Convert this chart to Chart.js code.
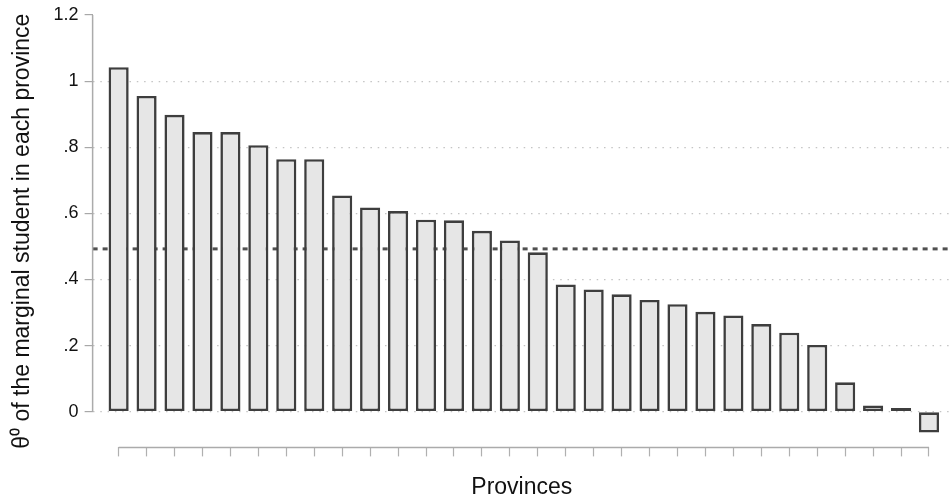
<!DOCTYPE html>
<html>
<head>
<meta charset="utf-8">
<script src="https://cdn.jsdelivr.net/npm/chart.js@4/dist/chart.umd.min.js"></script>
<style>
  html, body { margin: 0; padding: 0; background: #fff; }
  #wrap { width: 951px; height: 504px; }
</style>
</head>
<body>
<div id="wrap"><canvas id="chart"></canvas></div>
<script>
// provinces are unnamed in the figure, ranked by theta0 of the marginal student
var provinceRanks = [1, 2, 3, 4, 5, 6, 7, 8, 9, 10, 11, 12, 13, 14, 15,
                     16, 17, 18, 19, 20, 21, 22, 23, 24, 25, 26, 27, 28, 29, 30];
var theta0 = [1.042, 0.955, 0.898, 0.846, 0.846, 0.806, 0.764, 0.764, 0.654, 0.618,
              0.607, 0.581, 0.579, 0.547, 0.518, 0.482, 0.385, 0.370, 0.355, 0.338,
              0.325, 0.302, 0.291, 0.265, 0.239, 0.202, 0.089, 0.019, 0.011, -0.063];
var meanTheta0 = 0.4925;
var yTicks = [0, 0.2, 0.4, 0.6, 0.8, 1, 1.2];

var FONT = '"Liberation Sans", Arial, Helvetica, sans-serif';

// -------- custom axis lines + mean line --------
var axisLines = {
  id: "axisLines",
  beforeDatasetsDraw: function (chart) {
    var ctx = chart.ctx, a = chart.chartArea;
    var y = chart.scales.y.getPixelForValue(meanTheta0);
    ctx.save();
    ctx.strokeStyle = "#505050";
    ctx.lineWidth = 3;
    ctx.setLineDash([5, 5]);
    ctx.beginPath();
    ctx.moveTo(a.left, y);
    ctx.lineTo(a.right, y);
    ctx.stroke();
    ctx.restore();
  },
  afterDraw: function (chart) {
    var ctx = chart.ctx, xs = chart.scales.x, ys = chart.scales.y;
    ctx.save();
    ctx.strokeStyle = "#ababab";
    ctx.lineWidth = 1.5;
    // x axis spans first..last province only
    ctx.beginPath();
    ctx.moveTo(xs.getPixelForValue(0), xs.top);
    ctx.lineTo(xs.getPixelForValue(provinceRanks.length - 1), xs.top);
    ctx.stroke();
    // y axis spans 0..1.2 only
    ctx.beginPath();
    ctx.moveTo(ys.right, ys.getPixelForValue(yTicks[0]));
    ctx.lineTo(ys.right, ys.getPixelForValue(yTicks[yTicks.length - 1]));
    ctx.stroke();
    ctx.restore();
  }
};

var points = theta0.map(function (v, i) { return { x: i, y: v }; });

new Chart(document.getElementById("chart").getContext("2d"), {
  type: "bar",
  data: {
    labels: provinceRanks,
    datasets: [{
      data: points,
      backgroundColor: "#e6e6e6",
      borderColor: "#3e3e3e",
      borderWidth: 2.6,
      borderSkipped: false,
      barPercentage: 0.72,
      categoryPercentage: 1
    }]
  },
  options: {
    responsive: true,
    maintainAspectRatio: false,
    animation: false,
    layout: { padding: { top: 8, left: 0, right: 0, bottom: 0 } },
    plugins: { legend: { display: false }, tooltip: { enabled: false } },
    scales: {
      x: {
        type: "linear",
        offset: false,
        min: -0.931,
        max: 29.788,
        afterBuildTicks: function (s) {
          s.ticks = provinceRanks.map(function (p, i) { return { value: i }; });
        },
        ticks: { display: false },
        grid: {
          display: true,
          offset: false,
          drawOnChartArea: false,
          drawTicks: true,
          tickLength: 9,
          tickColor: "#b0b0b0",
          tickWidth: 1.2
        },
        border: { display: false },
        title: {
          display: true,
          text: "Provinces",
          color: "#111",
          font: { family: FONT, size: 23 },
          padding: { top: 17, bottom: 3 }
        }
      },
      y: {
        min: -0.108,
        max: 1.2,
        afterBuildTicks: function (s) {
          s.ticks = yTicks.map(function (v) { return { value: v }; });
        },
        ticks: {
          color: "#111",
          padding: 6,
          font: { family: FONT, size: 18, lineHeight: 1 },
          callback: function (v) {
            return String(Math.round(v * 10) / 10).replace(/^0\./, ".");
          }
        },
        grid: {
          color: function (c) { return c.tick && c.tick.value >= 1.2 ? "rgba(0,0,0,0)" : "#c4c4c4"; },
          lineWidth: 1.2,
          drawTicks: true,
          tickLength: 8,
          tickColor: "#a8a8a8",
          tickWidth: 1.2,
          tickBorderDash: []
        },
        border: { display: false, dash: [1.5, 5.8] },
        title: {
          display: true,
          text: "θ⁰ of the marginal student in each province",
          color: "#111",
          font: { family: FONT, size: 23 },
          padding: { top: 9, bottom: 11 }
        }
      }
    }
  },
  plugins: [axisLines]
});
</script>
</body>
</html>
